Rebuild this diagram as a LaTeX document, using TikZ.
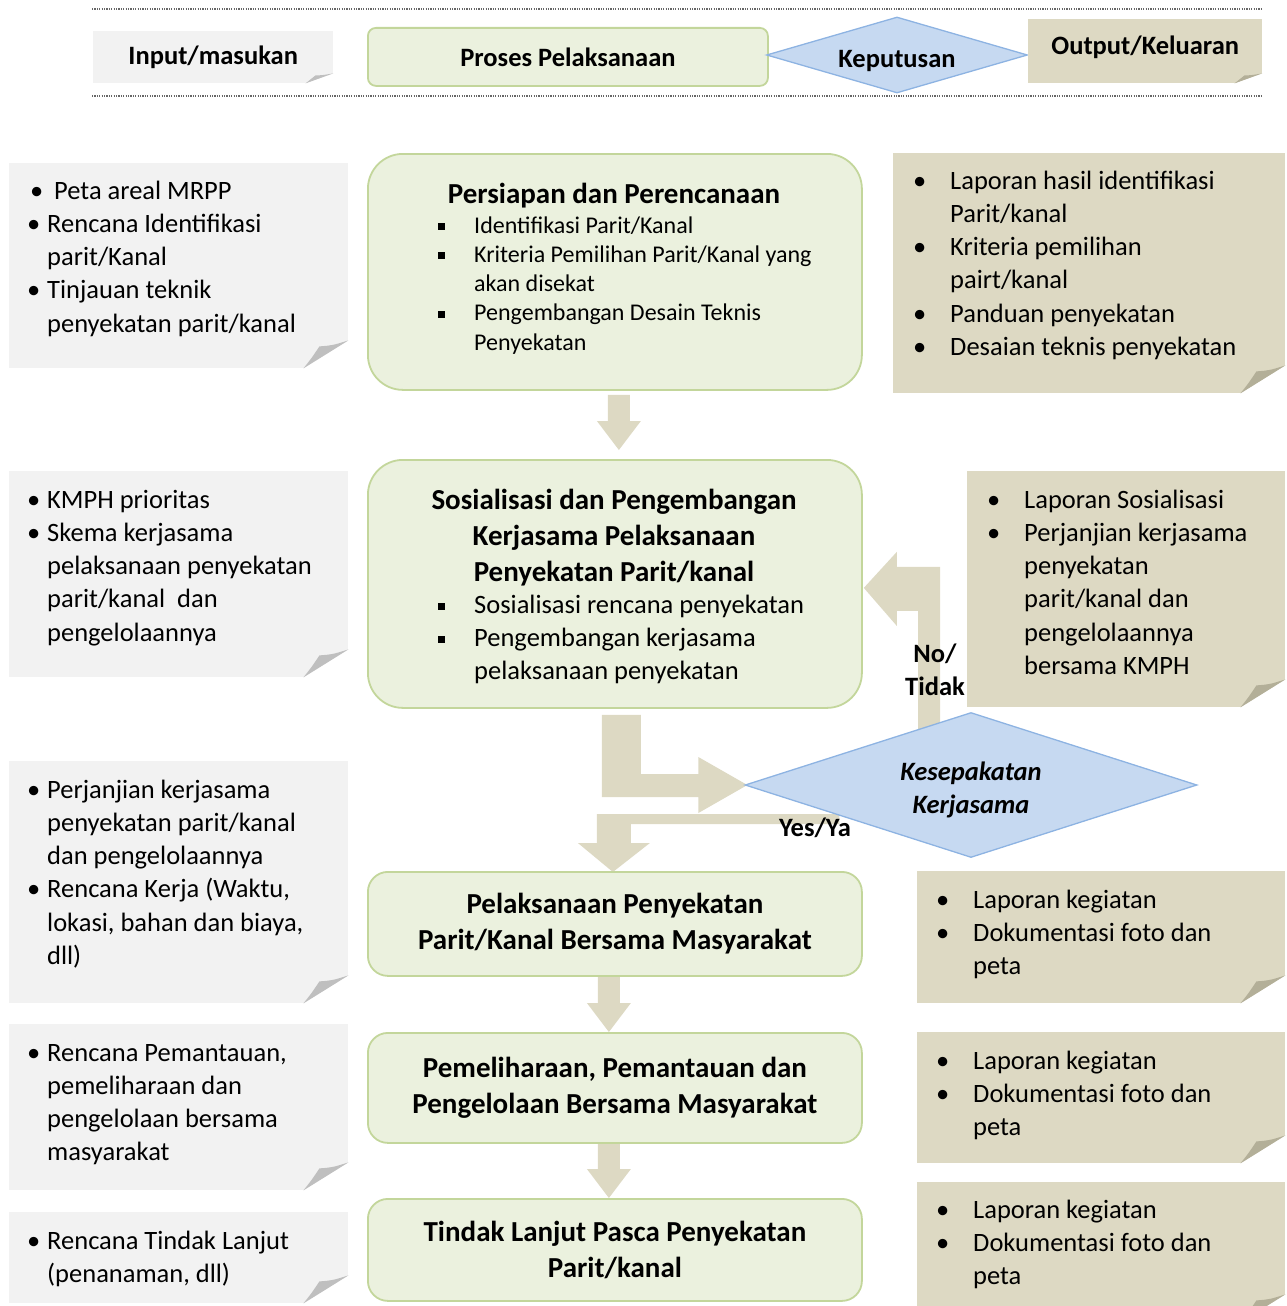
\documentclass[tikz,border=0pt]{standalone}
\usepackage{fontspec}
\setmainfont{Carlito}
\usetikzlibrary{shapes.geometric}
\usetikzlibrary{calc}
\usetikzlibrary{backgrounds}

\definecolor{ingray}{HTML}{F2F2F2}
\definecolor{outtan}{HTML}{DDD9C3}
\definecolor{procfill}{HTML}{EBF1DE}
\definecolor{procline}{HTML}{C3D69B}
\definecolor{decfill}{HTML}{C6D9F1}
\definecolor{decline}{HTML}{8DB3E2}
\definecolor{foldgray}{HTML}{BFBFBF}
\definecolor{foldtan}{HTML}{B3AF98}

\newcommand\lstfont{\fontsize{26.5}{33.3}\selectfont}
\newcommand\smfont{\fontsize{24}{29.3}\selectfont}
\newcommand\hdfont{\bfseries\fontsize{29}{36}\selectfont}
\newcommand\lbul{\makebox[20pt][l]{\textbullet}}
\newcommand\lgap{\hspace*{20pt}}
\newcommand\rbul{\makebox[37pt][l]{\textbullet}}
\newcommand\rgap{\hspace*{37pt}}
\newcommand\sbul{\makebox[36pt][l]{\rule[3pt]{7pt}{7pt}}}
\newcommand\sgap{\hspace*{36pt}}

\tikzset{
	sz/.style 2 args={minimum width=#1pt, minimum height=#2pt},
	inbox/.style={fill=ingray, inner sep=0pt, anchor=north west},
	outbox/.style={fill=outtan, inner sep=0pt, anchor=north west},
	procbox/.style={
		fill=procfill,
		draw=procline,
		line width=1.8pt,
		rounded corners=#1,
		inner sep=0pt,
		anchor=north west,
		align=center,
		font=\hdfont
	},
	procbox/.default=20pt,
	decbox/.style={
		diamond,
		aspect=3,
		fill=decfill,
		draw=decline,
		line width=1.3pt,
		inner sep=0pt,
		align=center
	},
	% multi-line texts sit on the baseline of their last line
	listtext/.style={font=\lstfont, align=left, inner sep=0pt, anchor=base west},
	boldtext/.style={font=\bfseries\lstfont, align=center, inner sep=0pt},
	fatarrow/.style={fill=outtan},
	fatdown/.style={
		to path={let \p1=(\tikztostart), \p2=(\tikztotarget) in
			(\x1-11pt,\y1) -- (\x1+11pt,\y1) -- (\x1+11pt,\y2+29pt) -- (\x1+22pt,\y2+29pt)
			-- (\x1,\y2) -- (\x1-22pt,\y2+29pt) -- (\x1-11pt,\y2+29pt) -- cycle}
	},
	fold/.pic={
		\fill[white] (-46,0.6) -- (0.6,0.6) -- (0.6,-28.5) -- cycle;
		\path[pic actions] (-45,0) .. controls (-37,-10) .. (-29,-22)
			.. controls (-16,-23) .. (0,-28) -- cycle;
	}
}

\begin{document}
\begin{tikzpicture}[x=1pt, y=-1pt]
	\useasboundingbox (0,0) rectangle (1287,1306);

	% header
	\draw[black!60, line width=1.2pt, dash pattern=on 1.2pt off 1.2pt] (92,9) -- (1263,9);
	\draw[black!60, line width=1.2pt, dash pattern=on 1.2pt off 1.2pt] (92,96) -- (1263,96);
	\node[inbox, sz={240}{52}, font=\bfseries\lstfont] (hin) at (93,31) {Input/masukan};
	\node[procbox=8pt, sz={400}{58}, font=\bfseries\lstfont] (hproc) at (367,27) {Proses Pelaksanaan};
	\node[decbox, sz={261}{76}, font=\bfseries\lstfont, text height=25pt, text depth=0pt] (hdec) at (897,55) {Keputusan};
	\node[outbox, sz={234}{64}, font=\bfseries\lstfont, text depth=11pt] (hout) at (1028,19) {Output/Keluaran};

	% input
	\node[inbox, sz={339}{205}] (in1) at (9,163) {};
	\node[inbox, sz={339}{206}] (in2) at (9,471) {};
	\node[inbox, sz={339}{242}] (in3) at (9,761) {};
	\node[inbox, sz={339}{166}] (in4) at (9,1024) {};
	\node[inbox, sz={339}{91}] (in5) at (9,1212) {};

	\node[listtext] (in1t) at (27,332.2) {\hspace*{3pt}\lbul\hspace*{4pt}Peta areal MRPP\\
		\lbul Rencana Identifikasi\\ \lgap parit/Kanal\\
		\lbul Tinjauan teknik\\ \lgap penyekatan parit/kanal};
	\node[listtext] (in2t) at (27,641.2) {\lbul KMPH prioritas\\ \lbul Skema kerjasama\\
		\lgap pelaksanaan penyekatan\\ \lgap parit/kanal~ dan\\ \lgap pengelolaannya};
	\node[listtext] (in3t) at (27,964.5) {\lbul Perjanjian kerjasama\\ \lgap penyekatan parit/kanal\\
		\lgap dan pengelolaannya\\ \lbul Rencana Kerja (Waktu,\\
		\lgap lokasi, bahan dan biaya,\\ \lgap dll)};
	\node[listtext] (in4t) at (27,1160.9) {\lbul Rencana Pemantauan,\\ \lgap pemeliharaan dan\\
		\lgap pengelolaan bersama\\ \lgap masyarakat};
	\node[listtext] (in5t) at (27,1282.3) {\lbul Rencana Tindak Lanjut\\ \lgap (penanaman, dll)};

	% proses
	\node[procbox=35pt, sz={494}{236}] (proc1) at (367,153) {};
	\node[procbox=35pt, sz={494}{248}] (proc2) at (367,459) {};
	\node[procbox, sz={494}{104}] (proc3) at (367,871) {Pelaksanaan Penyekatan\\Parit/Kanal Bersama Masyarakat};
	\node[procbox, sz={494}{110}] (proc4) at (367,1032) {Pemeliharaan, Pemantauan dan\\Pengelolaan Bersama Masyarakat};
	\node[procbox, sz={494}{102}] (proc5) at (367,1198) {Tindak Lanjut Pasca Penyekatan\\Parit/kanal};

	\node[font=\hdfont, inner sep=0pt, anchor=base] (proc1h) at (614,203) {Persiapan dan Perencanaan};
	\node[listtext, font=\smfont] (proc1t) at (438,350.2) {\sbul Identifikasi Parit/Kanal\\
		\sbul Kriteria Pemilihan Parit/Kanal yang\\ \sgap akan disekat\\
		\sbul Pengembangan Desain Teknis\\ \sgap Penyekatan};
	\node[font=\hdfont, align=center, inner sep=0pt, anchor=base] (proc2h) at (614,581)
		{Sosialisasi dan Pengembangan\\Kerjasama Pelaksanaan\\Penyekatan Parit/kanal};
	\node[listtext] (proc2t) at (438,679.6) {\sbul Sosialisasi rencana penyekatan\\
		\sbul Pengembangan kerjasama\\ \sgap pelaksanaan penyekatan};

	% keputusan
	\node[decbox, sz={452}{145}, font=\bfseries\itshape\lstfont, text height=62pt] (dec) at (971,785) {Kesepakatan\\Kerjasama};

	% output
	\node[outbox, sz={392}{240}] (out1) at (893,153) {};
	\node[outbox, sz={318}{236}] (out2) at (967,471) {};
	\node[outbox, sz={368}{132}] (out3) at (917,871) {};
	\node[outbox, sz={368}{131}] (out4) at (917,1032) {};
	\node[outbox, sz={368}{140}] (out5) at (917,1182) {};

	\node[listtext] (out1t) at (913,355.5) {\rbul Laporan hasil identifikasi\\ \rgap Parit/kanal\\
		\rbul Kriteria pemilihan\\ \rgap pairt/kanal\\ \rbul Panduan penyekatan\\
		\rbul Desaian teknis penyekatan};
	\node[listtext] (out2t) at (987,674.5) {\rbul Laporan Sosialisasi\\ \rbul Perjanjian kerjasama\\
		\rgap penyekatan\\ \rgap parit/kanal dan\\ \rgap pengelolaannya\\ \rgap bersama KMPH};
	\node[listtext] (out3t) at (936,974.6) {\rbul Laporan kegiatan\\ \rbul Dokumentasi foto dan\\ \rgap peta};
	\node[listtext] (out4t) at (936,1135.6) {\rbul Laporan kegiatan\\ \rbul Dokumentasi foto dan\\ \rgap peta};
	\node[listtext] (out5t) at (936,1284.6) {\rbul Laporan kegiatan\\ \rbul Dokumentasi foto dan\\ \rgap peta};

	% folded corners
	\foreach \n in {in1,in2,in3,in4,in5}
		\pic[fill=foldgray] at (\n.south east) {fold};
	\foreach \n in {out1,out2,out3,out4,out5}
		\pic[fill=foldtan] at (\n.south east) {fold};
	\pic[fill=foldgray, xscale=.62, yscale=.36] at (hin.south east) {fold};
	\pic[fill=foldtan, xscale=.62, yscale=.36] at (hout.south east) {fold};

	\node[boldtext] (nolab) at (935,670) {No/\\Tidak};
	\node[boldtext] (yeslab) at (815,828) {Yes/Ya};

	% block arrows
	\begin{scope}[on background layer]
		\fill[fatarrow, fatdown] ([shift={(4,4)}]proc1.south) to ([shift={(4,-9)}]proc2.north);
		\fill[fatarrow, fatdown] ([shift={(-6,0)}]proc3.south) to ([shift={(-6,0)}]proc4.north);
		\fill[fatarrow, fatdown] ([shift={(-6,0)}]proc4.south) to ([shift={(-6,0)}]proc5.north);
		\fill[fatarrow] let \p1=(proc2.south), \p2=(dec.west) in
			(\x1-13pt,\y1-6pt) -- (\x1+26pt,\y1-6pt) -- (\x1+26pt,\y2+11pt) -- (\x2-46pt,\y2+11pt)
			-- (\x2-46pt,\y2+28pt) -- (\x2+3pt,\y2) -- (\x2-46pt,\y2-28pt) -- (\x2-46pt,\y2-12pt)
			-- (\x1-13pt,\y2-12pt) -- cycle;
		\fill[fatarrow] let \p1=(dec.north), \p2=(proc2.east) in
			(\x1-53pt,\y1-18pt) -- (\x1-53pt,\y2-27pt) -- (\x2+34pt,\y2-27pt) -- (\x2+34pt,\y2-42pt)
			-- (\x2+1pt,\y2-4pt) -- (\x2+34pt,\y2+32pt) -- (\x2+34pt,\y2+17pt) -- (\x1-31pt,\y2+17pt)
			-- (\x1-31pt,\y1-18pt) -- cycle;
		\fill[fatarrow] let \p1=(dec.west), \p2=(proc3.north) in
			(\x1+95pt,\y1-29pt) -- (\x2-18pt,\y1-29pt) -- (\x2-18pt,\y2+28pt) -- (\x2-37pt,\y2+28pt)
			-- (\x2-2pt,\y2-1pt) -- (\x2+35pt,\y2+28pt) -- (\x2+16pt,\y2+28pt) -- (\x2+16pt,\y1-39pt)
			-- (\x1+95pt,\y1-39pt) -- cycle;
	\end{scope}
\end{tikzpicture}
\end{document}
